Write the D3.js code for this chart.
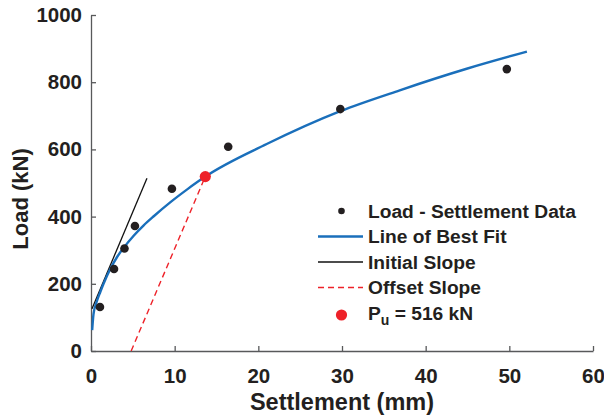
<!DOCTYPE html>
<html>
<head>
<meta charset="utf-8">
<script src="https://cdn.jsdelivr.net/npm/d3@7"></script>
<style>
  body { margin: 0; background: #fff; }
  text { font-family: "Liberation Sans", Arial, Helvetica, sans-serif; font-weight: bold; fill: #231f20; }
</style>
</head>
<body>
<div id="chart"></div>
<script>
// measured load - settlement points
var settlement = [1.07, 2.75, 4.0, 5.25, 9.67, 16.4, 29.8, 49.7];
var load = [131, 244, 305, 372, 483, 608, 720, 839];

// line of best fit
var fitX = [0.14, 0.3, 0.7, 1.1, 1.5, 2.3, 3.1, 3.9, 5.1, 6.3, 7.5, 9.5, 11.5, 13.66, 21.0, 29.8, 36.9, 44.9, 52.1];
var fitY = [62, 110, 148, 175, 200, 244, 279, 307, 343, 374, 401, 443, 481, 519, 616, 714, 776, 840, 891];

// initial slope and offset slope end points
var initX = [0.12, 6.69];
var initY = [126, 514];
var offX = [4.8, 13.66];
var offY = [0, 519];

// ultimate load point
var puX = [13.66];
var puY = [519];

var xTicks = [0, 10, 20, 30, 40, 50, 60];
var yTicks = [0, 200, 400, 600, 800, 1000];

var legendLabels = ['Load - Settlement Data', 'Line of Best Fit', 'Initial Slope', 'Offset Slope', 'P_u = 516 kN'];

var W = 604, H = 417;
var margin = {top: 15, right: 11, bottom: 66, left: 91};
var width = W - margin.left - margin.right;
var height = H - margin.top - margin.bottom;

var blue = '#1a6fbb', red = '#ee2229', axisCol = '#58595b';

var svg = d3.select('#chart').append('svg')
  .attr('width', W)
  .attr('height', H);

var g = svg.append('g')
  .attr('transform', 'translate(' + margin.left + ',' + margin.top + ')');

var x = d3.scaleLinear().domain([0, 60]).range([0, width]);
var y = d3.scaleLinear().domain([0, 1000]).range([height, 0]);

// axes, ticks pointing inward
var xAxis = g.append('g')
  .attr('transform', 'translate(0,' + height + ')')
  .call(d3.axisBottom(x).tickValues(xTicks).tickFormat(d3.format('d'))
    .tickSizeInner(-5).tickSizeOuter(0).tickPadding(14));
var yAxis = g.append('g')
  .call(d3.axisLeft(y).tickValues(yTicks).tickFormat(d3.format('d'))
    .tickSizeInner(-5).tickSizeOuter(0).tickPadding(9));

[xAxis, yAxis].forEach(function(a) {
  a.select('.domain').attr('stroke', axisCol).attr('stroke-width', 1.3);
  a.selectAll('.tick line').attr('stroke', axisCol).attr('stroke-width', 1.3);
  a.selectAll('.tick text')
    .style('font-size', '20.5px')
    .style('font-family', '"Liberation Sans", Arial, sans-serif')
    .style('font-weight', 'bold')
    .attr('fill', '#231f20');
});
xAxis.selectAll('.tick text').attr('dy', '0.9em');

// axis titles
g.append('text')
  .attr('x', width / 2)
  .attr('y', height + 59)
  .attr('text-anchor', 'middle')
  .style('font-size', '23.5px')
  .text('Settlement (mm)');

g.append('text')
  .attr('transform', 'translate(' + (-63) + ',' + (height / 2 + 16) + ') rotate(-90)')
  .attr('text-anchor', 'middle')
  .style('font-size', '22px')
  .text('Load (kN)');

var line = d3.line()
  .x(function(d) { return x(d[0]); })
  .y(function(d) { return y(d[1]); });

// offset slope
g.append('path')
  .datum(d3.zip(offX, offY))
  .attr('d', line)
  .attr('fill', 'none')
  .attr('stroke', red)
  .attr('stroke-width', 1.4)
  .attr('stroke-dasharray', '6,4');

// initial slope
g.append('path')
  .datum(d3.zip(initX, initY))
  .attr('d', line)
  .attr('fill', 'none')
  .attr('stroke', '#111')
  .attr('stroke-width', 1.3);

// best fit curve
g.append('path')
  .datum(d3.zip(fitX, fitY))
  .attr('d', line.curve(d3.curveMonotoneX))
  .attr('fill', 'none')
  .attr('stroke', blue)
  .attr('stroke-width', 2.4);

// data points
g.selectAll('.pt')
  .data(d3.zip(settlement, load))
  .enter()
  .append('circle')
  .attr('class', 'pt')
  .attr('cx', function(d) { return x(d[0]); })
  .attr('cy', function(d) { return y(d[1]); })
  .attr('r', 4.3)
  .attr('fill', '#231f20');

g.selectAll('.pu')
  .data(d3.zip(puX, puY))
  .enter()
  .append('circle')
  .attr('class', 'pu')
  .attr('cx', function(d) { return x(d[0]); })
  .attr('cy', function(d) { return y(d[1]); })
  .attr('r', 5.6)
  .attr('fill', red);

// legend
var legend = svg.append('g').attr('transform', 'translate(318,211)');
var rowH = 25.5;
var rows = legend.selectAll('.row')
  .data(legendLabels)
  .enter()
  .append('g')
  .attr('class', 'row')
  .attr('transform', function(d, i) { return 'translate(0,' + (i * rowH) + ')'; });

rows.each(function(d, i) {
  var r = d3.select(this);
  if (i === 0) {
    r.append('circle').attr('cx', 23.5).attr('cy', 0).attr('r', 3.3).attr('fill', '#231f20');
  } else if (i === 1) {
    r.append('line').attr('x1', 0).attr('x2', 45).attr('stroke', blue).attr('stroke-width', 2.4);
  } else if (i === 2) {
    r.append('line').attr('x1', 0).attr('x2', 45).attr('stroke', '#111').attr('stroke-width', 1.3);
  } else if (i === 3) {
    r.append('line').attr('x1', 0).attr('x2', 45).attr('stroke', red).attr('stroke-width', 1.4).attr('stroke-dasharray', '6,4');
  } else {
    r.append('circle').attr('cx', 23.5).attr('cy', 2).attr('r', 5.6).attr('fill', red);
  }
  var t = r.append('text')
    .attr('x', 50)
    .attr('y', 0)
    .attr('dy', '0.35em')
    .style('font-size', '19.2px');
  if (d.indexOf('P_u') === 0) {
    t.append('tspan').text('P');
    t.append('tspan').attr('dy', '0.4em').style('font-size', '14px').text('u');
    t.append('tspan').attr('dy', '-0.3em').text(' ' + d.slice(4));
  } else {
    t.text(d);
  }
});
</script>
</body>
</html>
